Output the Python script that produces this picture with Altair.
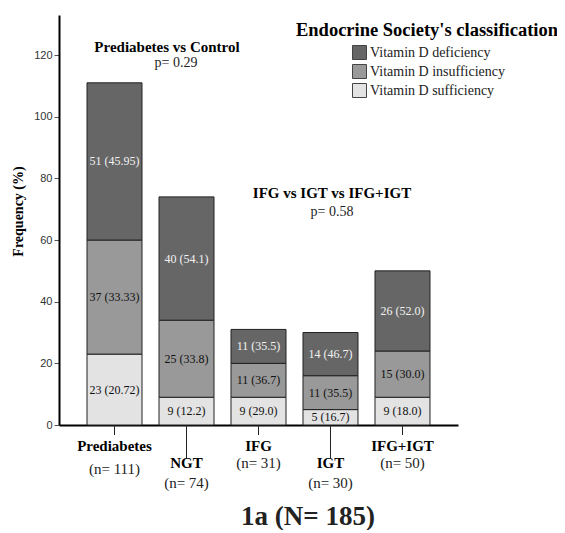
import altair as alt
import pandas as pd

categories = ["Prediabetes", "NGT", "IFG", "IGT", "IFG+IGT"]
n_labels = ["(n= 111)", "(n= 74)", "(n= 31)", "(n= 30)", "(n= 50)"]
label_level = [0, 1, 0, 1, 0]
statuses = ["Vitamin D deficiency", "Vitamin D insufficiency", "Vitamin D sufficiency"]
deficiency = [51, 40, 11, 14, 26]
insufficiency = [37, 25, 11, 11, 15]
sufficiency = [23, 9, 9, 5, 9]
deficiency_text = ["51 (45.95)", "40 (54.1)", "11 (35.5)", "14 (46.7)", "26 (52.0)"]
insufficiency_text = ["37 (33.33)", "25 (33.8)", "11 (36.7)", "11 (35.5)", "15 (30.0)"]
sufficiency_text = ["23 (20.72)", "9 (12.2)", "9 (29.0)", "5 (16.7)", "9 (18.0)"]
y_ticks = [0, 20, 40, 60, 80, 100, 120]
colors = ["#666666", "#999999", "#e3e3e3"]

SERIF = "Liberation Serif"

rows = []
for i, c in enumerate(categories):
    base = 0
    for order, (st, vals, txts) in enumerate([
        (statuses[2], sufficiency, sufficiency_text),
        (statuses[1], insufficiency, insufficiency_text),
        (statuses[0], deficiency, deficiency_text),
    ]):
        v = vals[i]
        rows.append({"category": c, "status": st, "value": v, "ord": order,
                     "mid": base + v / 2, "label": txts[i]})
        base += v
df = pd.DataFrame(rows)

cat_df = pd.DataFrame({"category": categories, "nlab": n_labels, "level": label_level})

W, H = 399, 410

xenc = alt.X("category:N", sort=categories,
             scale=alt.Scale(paddingInner=0.236, paddingOuter=0.389),
             axis=alt.Axis(labels=False, ticks=False, title=None, domainColor="black",
                           domainWidth=2))

bars = alt.Chart(df).mark_bar(stroke="#222222", strokeWidth=1).encode(
    x=xenc,
    y=alt.Y("value:Q", stack="zero",
            scale=alt.Scale(domain=[0, 133], nice=False),
            axis=alt.Axis(values=y_ticks, title="Frequency (%)", titleFont=SERIF,
                          titleFontWeight="bold", titleFontSize=14, titleColor="black",
                          titleX=-41, titleY=196, titleAngle=270, titleAlign="center",
                          titleBaseline="middle",
                          labelFont="Liberation Sans", labelFontSize=11, labelColor="#333333",
                          labelPadding=2,
                          tickColor="#555555", tickSize=5, domainColor="black", domainWidth=2,
                          grid=False)),
    color=alt.Color("status:N", scale=alt.Scale(domain=statuses, range=colors),
                    legend=alt.Legend(title=None, orient="none", legendX=293, legendY=30,
                                      symbolType="square", symbolSize=196,
                                      symbolStrokeColor="#444444", symbolStrokeWidth=1,
                                      symbolOpacity=1,
                                      labelFont=SERIF, labelFontSize=14, labelColor="#222222",
                                      labelOffset=3, rowPadding=0)),
    order=alt.Order("ord:Q"),
)

seg_text = alt.Chart(df).mark_text(font=SERIF, fontSize=12, baseline="middle").encode(
    x=alt.X("category:N", sort=categories),
    y=alt.Y("mid:Q"),
    text="label:N",
    color=alt.condition(alt.datum.ord == 2, alt.value("#f2f2f2"), alt.value("#111111")),
)

def ticks_layer(level, y2):
    return alt.Chart(cat_df).transform_filter(alt.datum.level == level).mark_rule(
        color="#222222", strokeWidth=1).encode(
        x=alt.X("category:N", sort=categories), y=alt.value(H), y2=alt.value(y2))

def name_layer(level, y):
    return alt.Chart(cat_df).transform_filter(alt.datum.level == level).mark_text(
        font=SERIF, fontSize=15, fontWeight="bold", baseline="middle", color="black").encode(
        x=alt.X("category:N", sort=categories), y=alt.value(y), text="category:N")

def n_layer(flt, y):
    return alt.Chart(cat_df).transform_filter(flt).mark_text(
        font=SERIF, fontSize=15, baseline="middle", color="#222222").encode(
        x=alt.X("category:N", sort=categories), y=alt.value(y), text="nlab:N")

def note(txt, x, y, size, weight="normal", color="black"):
    return alt.Chart(pd.DataFrame({"t": [txt]})).mark_text(
        font=SERIF, fontSize=size, fontWeight=weight, baseline="middle", align="center",
        color=color).encode(x=alt.value(x), y=alt.value(y), text="t:N")

layers = [
    bars, seg_text,
    ticks_layer(0, 420), ticks_layer(1, 443),
    name_layer(0, 431), name_layer(1, 448),
    n_layer("datum.level == 0 && datum.category == 'Prediabetes'", 454),
    n_layer("datum.level == 0 && datum.category != 'Prediabetes'", 448),
    n_layer("datum.level == 1", 468),
    note("Prediabetes vs Control", 108, 32, 15, "bold"),
    note("p= 0.29", 117, 48, 14, color="#222222"),
    note("IFG vs IGT vs IFG+IGT", 273, 178, 15, "bold"),
    note("p= 0.58", 273, 197, 14, color="#222222"),
    note("Endocrine Society's classification", 368, 15, 18.5, "bold"),
    note("1a (N= 185)", 249, 502, 27, "bold", "#222222"),
]

chart = alt.layer(*layers).properties(
    width=W, height=H,
    autosize=alt.AutoSizeParams(type="none"),
    padding={"left": 51, "top": 7, "right": 99, "bottom": 105},
    background="white",
).configure_view(stroke=None)

chart.save("out.html", embed_options={"renderer": "svg", "actions": False})
